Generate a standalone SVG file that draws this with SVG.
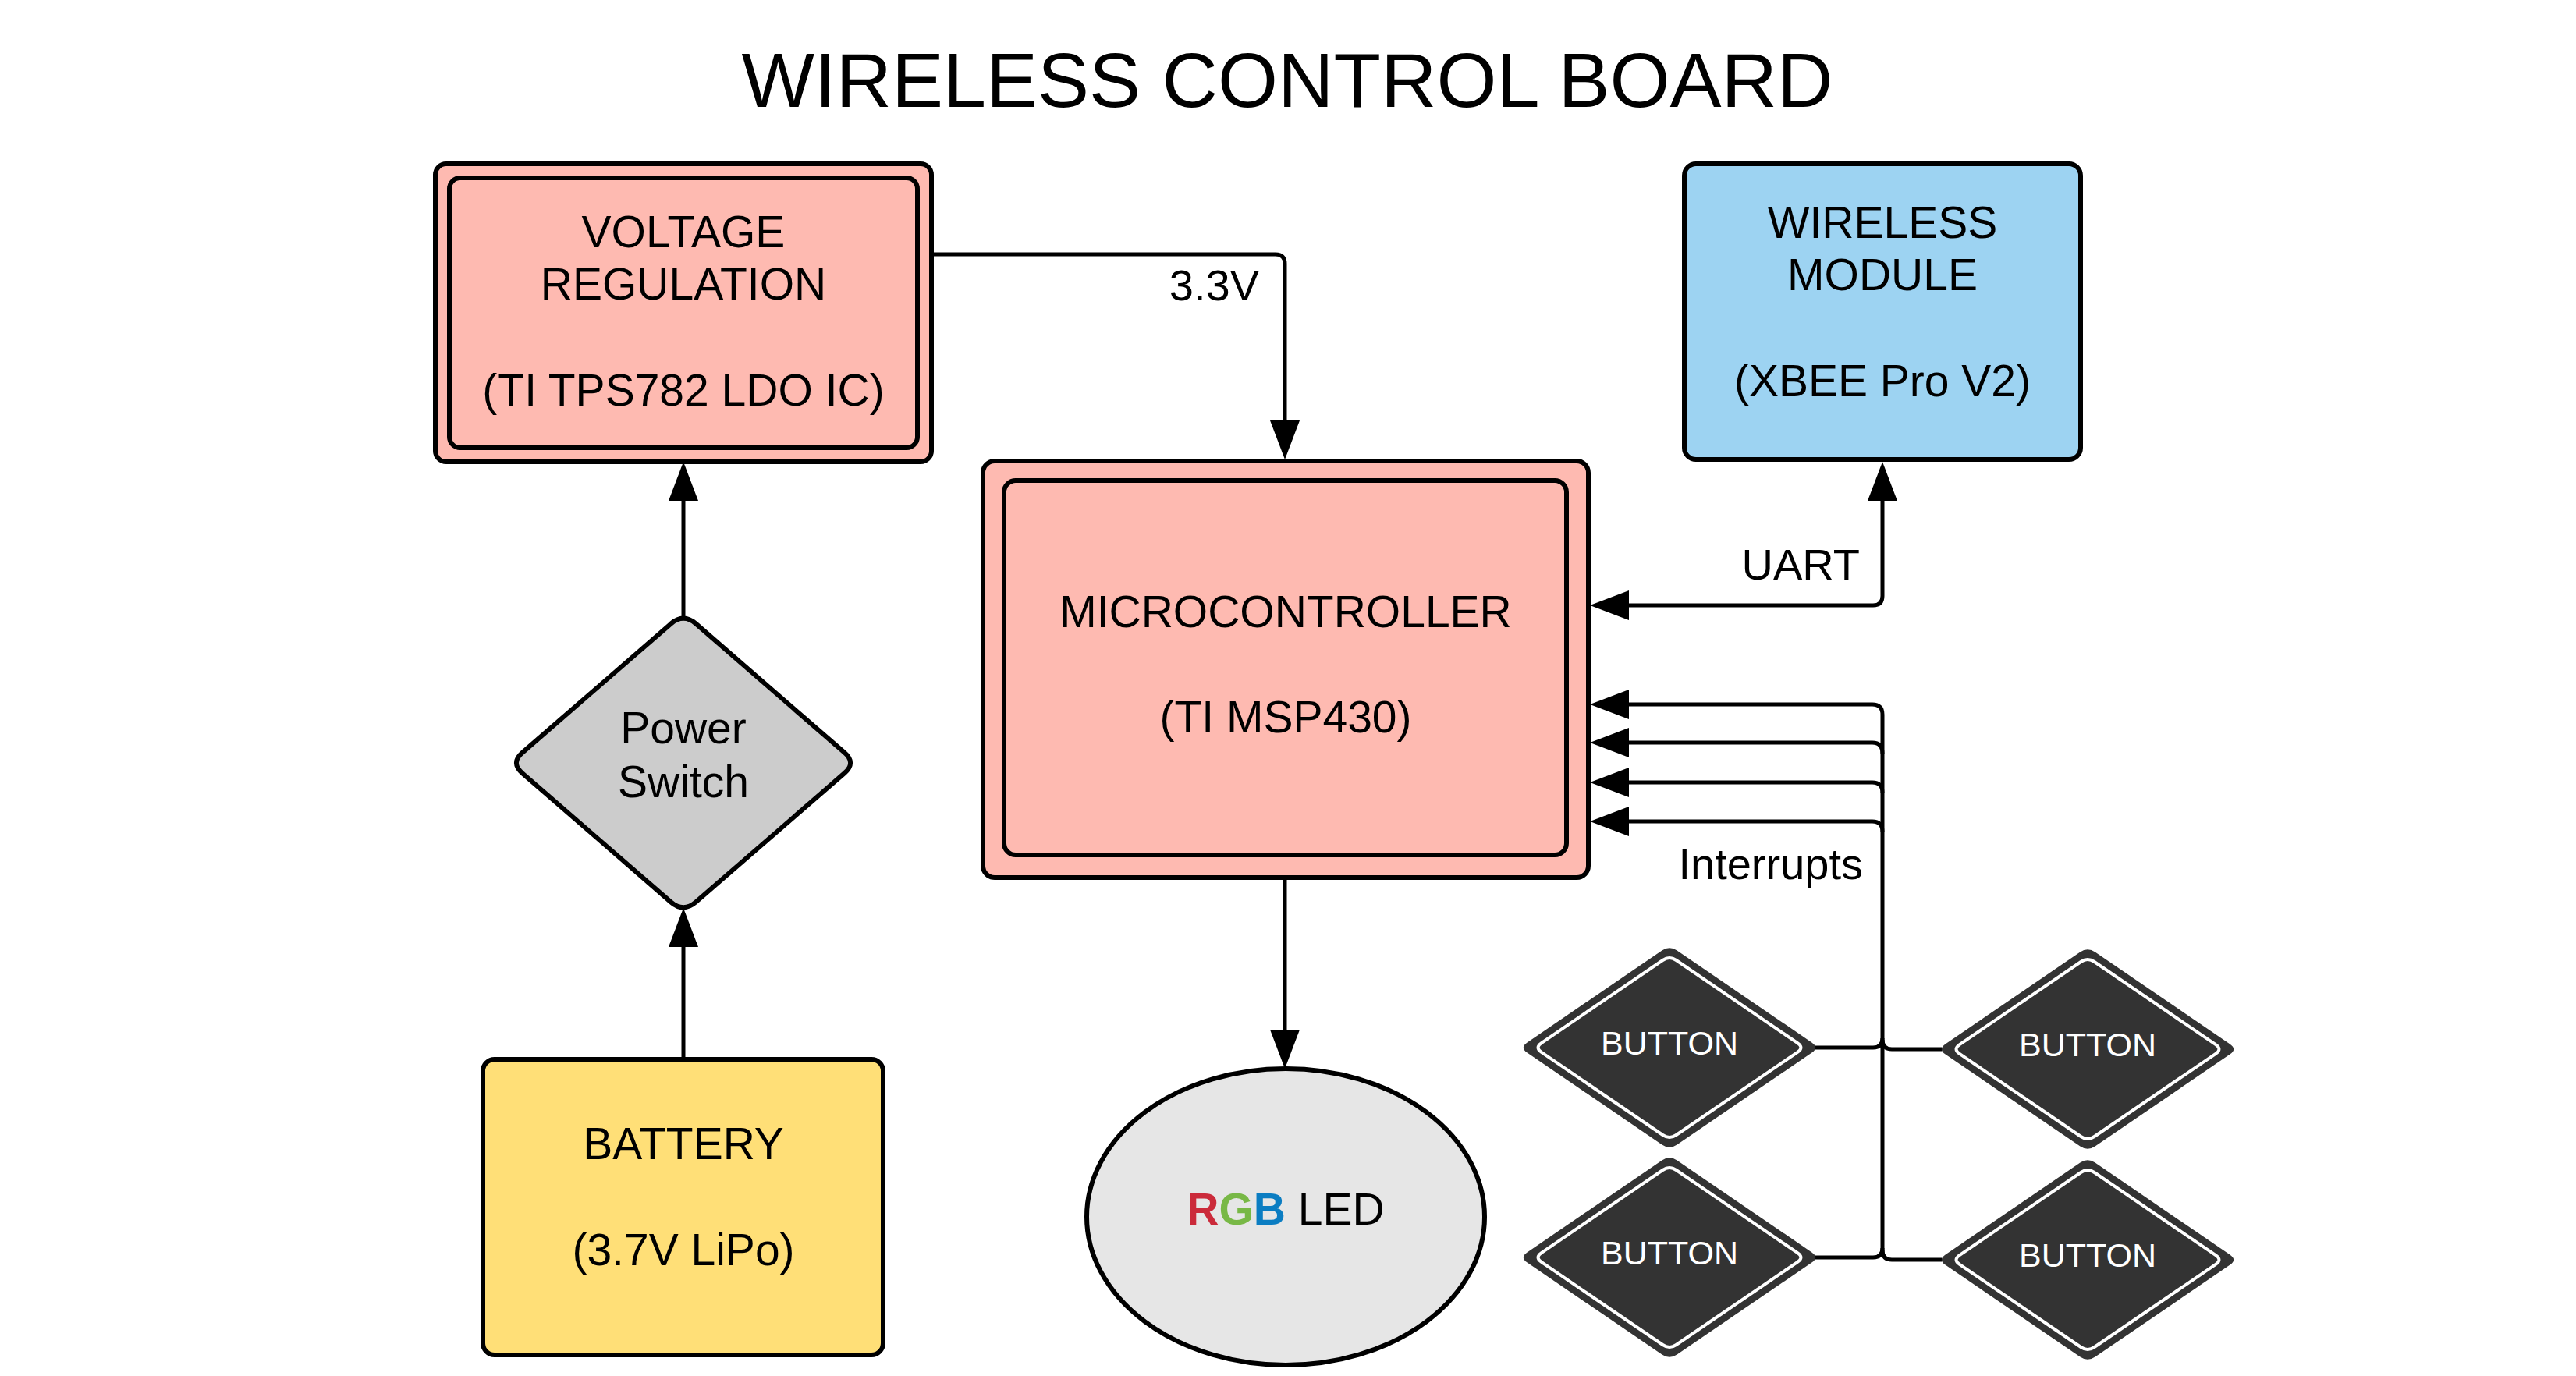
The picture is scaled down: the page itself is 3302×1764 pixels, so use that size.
<svg xmlns="http://www.w3.org/2000/svg" xmlns:xlink="http://www.w3.org/1999/xlink" width="3302" height="1764" viewBox="0 0 3302 1764">
<style>
.t{font-family:"Liberation Sans",Arial,Helvetica,sans-serif;font-size:57px;fill:#000;text-anchor:middle}
.te{font-family:"Liberation Sans",Arial,Helvetica,sans-serif;font-size:56px;fill:#000;text-anchor:end}
.title{font-family:"Liberation Sans",Arial,Helvetica,sans-serif;font-size:99px;fill:#000;text-anchor:middle}
.bt{font-family:"Liberation Sans",Arial,Helvetica,sans-serif;font-size:43px;fill:#fff;text-anchor:middle}
.box{stroke:#000;stroke-width:6}
.pink{fill:#FEBAB1}
.wire{fill:none;stroke:#000;stroke-width:5;stroke-linejoin:round}
.arr{marker-end:url(#ah)}
</style>
<defs>
<marker id="ah" viewBox="0 0 50 40" refX="30" refY="20" markerWidth="50" markerHeight="40" markerUnits="userSpaceOnUse" orient="auto-start-reverse">
<path d="M0,1 L50,20 L0,39 Z" fill="#000"/>
</marker>
<path id="btnOuter" d="M-9.6,-124.45 Q0,-131 9.6,-124.45 L182.4,-6.55 Q192,0 182.4,6.55 L9.6,124.45 Q0,131 -9.6,124.45 L-182.4,6.55 Q-192,0 -182.4,-6.55 Z" fill="#333333"/>
<path id="btnInner" d="M-8.64,-112 Q0,-117.9 8.64,-112 L164.16,-5.9 Q172.8,0 164.16,5.9 L8.64,112 Q0,117.9 -8.64,112 L-164.16,5.9 Q-172.8,0 -164.16,-5.9 Z" fill="none" stroke="#fff" stroke-width="4"/>
</defs>
<rect x="0" y="0" width="3302" height="1764" fill="#fff"/>
<text id="title" class="title" x="1650" y="137">WIRELESS CONTROL BOARD</text>

<g id="connectors">
<path class="wire arr" d="M1195,326 L1635,326 Q1647,326 1647,338 L1647,569"/>
<path class="wire arr" d="M876,792 L876,612"/>
<path class="wire arr" d="M876,1358 L876,1184"/>
<path class="wire arr" d="M1647,1125 L1647,1350"/>
<path class="wire" marker-start="url(#ah)" marker-end="url(#ah)" d="M2058,776 L2401,776 Q2413,776 2413,764 L2413,612"/>
<path class="wire arr" d="M2413,1612 L2413,916 Q2413,903 2400,903 L2058,903"/>
<path class="wire arr" d="M2413,966 Q2413,952 2400,952 L2058,952"/>
<path class="wire arr" d="M2413,1016 Q2413,1003 2400,1003 L2058,1003"/>
<path class="wire arr" d="M2413,1066 Q2413,1053 2400,1053 L2058,1053"/>
<path class="wire" d="M2327,1343 L2401,1343 Q2413,1343 2413,1331"/>
<path class="wire" d="M2489,1345 L2425,1345 Q2413,1345 2413,1333"/>
<path class="wire" d="M2327,1612 L2401,1612 Q2413,1612 2413,1600"/>
<path class="wire" d="M2489,1615 L2425,1615 Q2413,1615 2413,1603"/>
<text class="te" x="1614" y="385">3.3V</text>
<text class="te" x="2384" y="743">UART</text>
<text class="te" x="2388" y="1127">Interrupts</text>
</g>

<g id="voltage-regulation">
<rect class="box pink" x="558" y="210" width="636" height="382" rx="14"/>
<rect class="box pink" x="576" y="228" width="600" height="346" rx="14"/>
<text class="t" x="876" y="317">VOLTAGE</text>
<text class="t" x="876" y="384">REGULATION</text>
<text class="t" x="876" y="520">(TI TPS782 LDO IC)</text>
</g>

<g id="microcontroller">
<rect class="box pink" x="1260" y="591" width="776" height="534" rx="15"/>
<rect class="box pink" x="1287" y="616" width="721" height="480" rx="15"/>
<text class="t" x="1648" y="804">MICROCONTROLLER</text>
<text class="t" x="1648" y="939">(TI MSP430)</text>
</g>

<g id="wireless-module">
<rect class="box" fill="#9DD3F2" x="2159" y="210" width="508" height="379" rx="15"/>
<text class="t" x="2413" y="305">WIRELESS</text>
<text class="t" x="2413" y="372">MODULE</text>
<text class="t" x="2413" y="508">(XBEE Pro V2)</text>
</g>

<g id="power-switch">
<path class="box" fill="#CCCCCC" d="M860.2,799.4 Q876,786 891.8,799.4 L1082.2,964.6 Q1098,978 1082.2,991.4 L891.8,1156.6 Q876,1170 860.2,1156.6 L669.8,991.4 Q654,978 669.8,964.6 Z"/>
<text class="t" x="876" y="953">Power</text>
<text class="t" x="876" y="1022">Switch</text>
</g>

<g id="battery">
<rect class="box" fill="#FFDF77" x="619" y="1358" width="513" height="379" rx="15"/>
<text class="t" x="876" y="1486">BATTERY</text>
<text class="t" x="876" y="1622">(3.7V LiPo)</text>
</g>

<g id="rgb-led">
<ellipse class="box" fill="#E6E6E6" cx="1648" cy="1560" rx="255" ry="190"/>
<text class="t" x="1648" y="1570"><tspan font-weight="bold" fill="#CB2A3A">R</tspan><tspan font-weight="bold" fill="#78B846">G</tspan><tspan font-weight="bold" fill="#0B7DC2">B</tspan> LED</text>
</g>

<g id="button-1" transform="translate(2140,1343)">
<use xlink:href="#btnOuter"/><use xlink:href="#btnInner"/>
<text class="bt" x="0" y="9">BUTTON</text>
</g>
<g id="button-2" transform="translate(2676,1345)">
<use xlink:href="#btnOuter"/><use xlink:href="#btnInner"/>
<text class="bt" x="0" y="9">BUTTON</text>
</g>
<g id="button-3" transform="translate(2140,1612)">
<use xlink:href="#btnOuter"/><use xlink:href="#btnInner"/>
<text class="bt" x="0" y="9">BUTTON</text>
</g>
<g id="button-4" transform="translate(2676,1615)">
<use xlink:href="#btnOuter"/><use xlink:href="#btnInner"/>
<text class="bt" x="0" y="9">BUTTON</text>
</g>
</svg>
